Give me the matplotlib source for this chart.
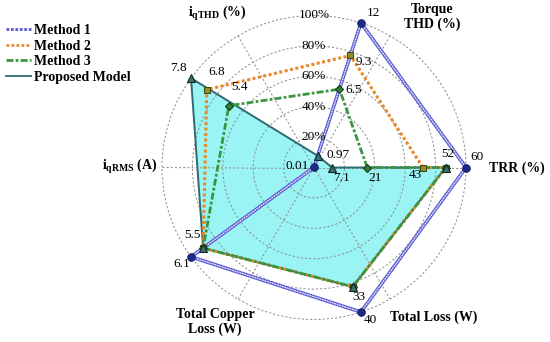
import numpy as np
import matplotlib
matplotlib.use("Agg")
import matplotlib.pyplot as plt
from matplotlib.lines import Line2D

plt.rcParams['font.family'] = ['Liberation Serif', 'DejaVu Serif']
plt.rcParams['mathtext.fontset'] = 'custom'
plt.rcParams['mathtext.rm'] = 'Liberation Serif'
plt.rcParams['mathtext.bf'] = 'Liberation Serif:bold'
plt.rcParams['mathtext.it'] = 'Liberation Serif:italic'

# ---- data ----
axis_names = ["TRR (%)", "Torque THD (%)", "i_qTHD (%)", "Total Copper Loss (W)", "Total Loss (W)"]
axis_max = [60, 12, 7.8, 6.1, 40]
pct_ticks = [20, 40, 60, 80, 100]

series_names = ["Method 1", "Method 2", "Method 3", "Proposed Model"]
m1_axis = [2, 1, 0, 4, 3]
m1_vals = [0.01, 12, 60, 40, 6.1]
m2_axis = [0, 1, 2, 3, 4, 0]
m2_vals = [43, 9.3, 6.8, 5.5, 33, 52]
m3_axis = [0, 1, 2, 3, 4, 0]
m3_vals = [21, 6.5, 5.4, 5.5, 33, 52]
p_axis = [0, 1, 2, 3, 4, 0]
p_vals = [7.1, 0.97, 7.8, 5.5, 33, 52]

# ---- layout / style ----
axis_angle_deg = [0, 72, 144, 216, 288]
W, H = 550, 342
fig = plt.figure(figsize=(W / 100, H / 100), dpi=100)
cx, cy, R = 314, 167.5, 152
ax = fig.add_axes([(cx - R) / W, (H - cy - R) / H, 2 * R / W, 2 * R / H], projection='polar')
ax.set_ylim(0, 1)
ax.set_thetagrids(range(0, 360, 60), labels=[''] * 6)
ax.set_rgrids([t / 100 for t in pct_ticks], labels=[''] * len(pct_ticks))
ax.grid(True, color='#909090', lw=0.75, ls=(0, (2, 2)))
for gl in ax.yaxis.get_gridlines():
    gl.set_clip_on(False)
ax.spines['polar'].set_visible(False)
ax.patch.set_alpha(0)


def coords(axes_idx, vals):
    th = [np.deg2rad(axis_angle_deg[i]) for i in axes_idx]
    r = [v / axis_max[i] for i, v in zip(axes_idx, vals)]
    return th, r


def closed(th, r):
    return th + th[:1], r + r[:1]


th1, r1 = coords(m1_axis, m1_vals)
th2, r2 = coords(m2_axis, m2_vals)
th3, r3 = coords(m3_axis, m3_vals)
thp, rp = coords(p_axis, p_vals)

c1, c2, c3, cp = '#5c5cd2', '#e8892c', '#3c9440', '#2f6a70'

# proposed fill + line
tc, rc = closed(thp, rp)
ax.fill(tc, rc, color='#9af4f4', lw=0, zorder=1)
ax.plot(tc, rc, color=cp, lw=1.4, zorder=2, clip_on=False)

# method 2
tc, rc = closed(th2, r2)
ax.plot(tc, rc, color=c2, lw=2.2, ls=(0, (1, 0.8)), zorder=3, clip_on=False)
# method 3
tc, rc = closed(th3, r3)
ax.plot(tc, rc, color=c3, lw=2.0, ls=(0, (2.5, 0.8, 1, 0.8)), zorder=4, clip_on=False)
# method 1 (double line look)
tc, rc = closed(th1, r1)
ax.plot(tc, rc, color=c1, lw=2.6, zorder=5, clip_on=False)
ax.plot(tc, rc, color='#eeeeff', lw=0.9, ls=(0, (1.5, 0.6)), zorder=5.1, clip_on=False)

# markers
ax.plot(th2, r2, ls='none', marker='s', ms=4.5, mfc='#8f8f2a', mec='#4a4a10', mew=0.8, zorder=6, clip_on=False)
ax.plot(th3, r3, ls='none', marker='D', ms=4.2, mfc='#2e7d32', mec='#14401a', mew=0.8, zorder=6, clip_on=False)
ax.plot(thp, rp, ls='none', marker='^', ms=5.5, mfc='#3f6e6e', mec='#102828', mew=0.8, zorder=6, clip_on=False)
ax.plot(th1, r1, ls='none', marker='o', ms=5.5, mfc='#1c2a8c', mec='#0e1650', mew=0.6, zorder=7, clip_on=False)

# value labels (offsets in pixels)
off1 = [(-17, 1.5), (12, 10), (11, 10.5), (9, -8), (-9, -7)]
off2 = [(-8, -8), (13, -6.5), (10, 17.5), None, None, None]
off3 = [(8, -10.5), (14, -1), (11, 19), None, None, None]
offp = [(10, -10.5), (20, 1), (-13, 10), (-11, 13), (6, -10), (2, 13.5)]
for th, r, vals, offs in [(th1, r1, m1_vals, off1), (th2, r2, m2_vals, off2),
                          (th3, r3, m3_vals, off3), (thp, rp, p_vals, offp)]:
    for t, rr, v, o in zip(th, r, vals, offs):
        if o is None:
            continue
        ax.annotate(f"{v:g}", (t, rr), xytext=o, textcoords='offset pixels',
                    ha='center', va='center', fontsize=9.5, zorder=8, annotation_clip=False)

# percentage labels
for t in pct_ticks:
    ax.text(np.pi / 2, t / 100, f"{t}%", ha='center', va='center', fontsize=9.5, zorder=8)


# axis labels
def ftext(x, y, s, **kw):
    fig.text(x / W, 1 - y / H, s, ha='center', va='center', fontsize=10, fontweight='bold', **kw)


ftext(517, 168, "TRR (%)")
ftext(432, 17, "Torque\nTHD (%)", linespacing=1.1)
ftext(217, 14, r"$\mathbf{i}_{\mathbf{qTHD}}$ (%)")
ftext(130, 167, r"$\mathbf{i}_{\mathbf{qRMS}}$ (A)")
ftext(215, 322, "Total Copper\nLoss (W)", linespacing=1.1)
ftext(434, 317, "Total Loss (W)")

handles = [Line2D([], [], color=c1, lw=2.0, ls=(0, (1, 0.6))),
           Line2D([], [], color=c2, lw=2.0, ls=(0, (1, 0.8))),
           Line2D([], [], color=c3, lw=2.0, ls=(0, (2.5, 0.8, 1, 0.8))),
           Line2D([], [], color=cp, lw=1.3)]
fig.legend(handles, series_names, loc='upper left', bbox_to_anchor=(0.005, 1 - 21 / H),
           frameon=False, prop={'weight': 'bold', 'size': 10}, handlelength=1.8,
           handletextpad=0.25, labelspacing=0.2, borderaxespad=0, borderpad=0.2)

fig.savefig("out.png", dpi=100)
